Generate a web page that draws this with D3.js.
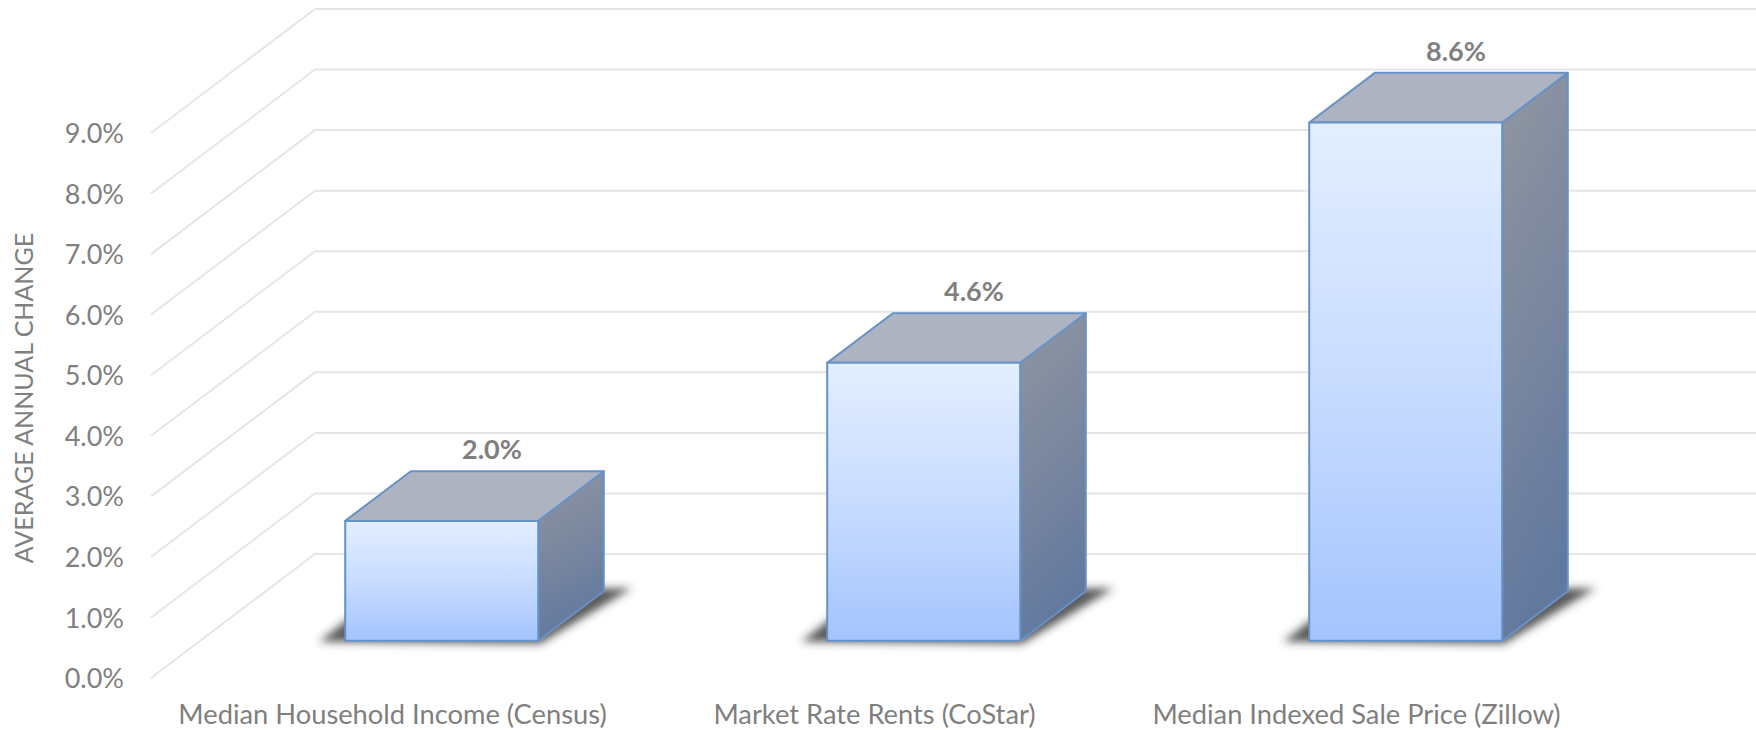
<!DOCTYPE html>
<html><head><meta charset="utf-8">
<script src="https://cdn.jsdelivr.net/npm/d3@7/dist/d3.min.js"></script>
<style>html,body{margin:0;padding:0;background:#fff;overflow:hidden}svg{display:block}text{font-family:Lato,sans-serif}</style>
</head><body><svg id="c" width="1756" height="730"></svg>
<script>
const categories = ["Median Household Income (Census)", "Market Rate Rents (CoStar)", "Median Indexed Sale Price (Zillow)"];
const values = [1.98, 4.59, 8.56];
const yTicks = [0,1,2,3,4,5,6,7,8,9];
const yTitle = "AVERAGE ANNUAL CHANGE";

const W = 1756, H = 730;
const svg = d3.select("#c");
const pad = 1 - 193/482;
const x = d3.scaleBand().domain(categories).range([151.5, 1597.5]).paddingInner(pad).paddingOuter(pad/2);
const y = d3.scaleLinear().domain([0, 9]).range([678, 133]);
// depth axis: 0 = front plane, 1 = back wall
const zx = d3.scaleLinear().domain([0, 1]).range([0, 164]);
const zy = d3.scaleLinear().domain([0, 1]).range([0, -124]);
const zFront = 0.3, zBack = 0.7;
const P = (px, v, z) => [px + zx(z), y(v) + zy(z)];
const line = d3.line();

const defs = svg.append("defs");
function grad(id, x2, y2, stops){
  const g = defs.append("linearGradient").attr("id", id).attr("x1",0).attr("y1",0).attr("x2",x2).attr("y2",y2);
  stops.forEach(s => g.append("stop").attr("offset", s[0]).attr("stop-color", s[1]));
}
grad("front", 0, 1, [[0,"#e3eeff"],[0.5,"#c8dcff"],[1,"#a4c4fe"]]);
grad("side", 0.2, 1, [[0,"#9196a1"],[0.5,"#7b879f"],[1,"#62799f"]]);
defs.append("filter").attr("id","blur").attr("x","-20%").attr("y","-40%").attr("width","140%").attr("height","180%")
  .append("feGaussianBlur").attr("stdDeviation", 4.5);

// Grid: side-wall line + back-wall line per tick
const grid = svg.append("g");
yTicks.forEach(t => {
  grid.append("path")
    .attr("d", line([P(151, t, 0), P(151, t, 1), [W, y(t) + zy(1)]]))
    .attr("fill","none").attr("stroke","#e6e6e6").attr("stroke-width",2);
});

// Y axis labels
const yAxis = d3.axisLeft(y).tickValues(yTicks).tickFormat(d => d3.format(".1f")(d) + "%").tickSize(0).tickPadding(0);
const ya = svg.append("g").attr("transform","translate(124,1)").call(yAxis);
ya.select(".domain").remove();
ya.selectAll("text").style("font-family","Lato,sans-serif").style("font-size","27px").attr("fill","#7f7f7f");

// X axis labels
const xAxis = d3.axisBottom(x).tickSize(0).tickPadding(0);
const xa = svg.append("g").attr("transform","translate(0,705)").call(xAxis);
xa.select(".domain").remove();
xa.selectAll("text").style("font-family","Lato,sans-serif").style("font-size","27.3px").attr("fill","#7f7f7f");

// Axis title
svg.append("text").attr("transform","translate(33,398) rotate(-90)").attr("text-anchor","middle")
  .attr("font-size","25px").attr("fill","#7f7f7f").text(yTitle);

// Bars
const bars = svg.append("g").selectAll("g").data(categories).join("g");
bars.each(function(c, i){
  const g = d3.select(this), l = x(c), r = l + x.bandwidth(), v = values[i];
  // floor shadow
  const fl = P(l, 0, zFront), fr = P(r, 0, zFront), br = P(r, 0, zBack);
  g.append("path").attr("filter","url(#blur)").attr("fill","#2e2e2e").attr("fill-opacity",0.8)
    .attr("d", line([[fl[0]-26, fl[1]+1],[fr[0]+2, fr[1]+3],[br[0]+28, br[1]-3],[br[0]-2, br[1]-3],[fl[0]+6, fl[1]-24]])+"Z");
  const poly = (pts, fill) => g.append("path").attr("d", line(pts)+"Z").attr("fill", fill)
    .attr("stroke","#6692c8").attr("stroke-width",2).attr("stroke-linejoin","round");
  poly([P(r,v,zFront),P(r,v,zBack),P(r,0,zBack),P(r,0,zFront)], "url(#side)");
  poly([P(l,v,zFront),P(r,v,zFront),P(r,v,zBack),P(l,v,zBack)], "#adb3c1");
  poly([P(l,v,zFront),P(r,v,zFront),P(r,0,zFront),P(l,0,zFront)], "url(#front)");
  const top = P(l + x.bandwidth()/2, v, zBack);
  g.append("text").attr("x", l + x.bandwidth()/2 + zx(0.6) + 1).attr("y", top[1] - 12)
    .attr("text-anchor","middle").attr("font-size","27px").attr("font-weight",700).attr("fill","#7f7f7f")
    .text(d3.format(".1f")(v) + "%");
});
</script></body></html>
